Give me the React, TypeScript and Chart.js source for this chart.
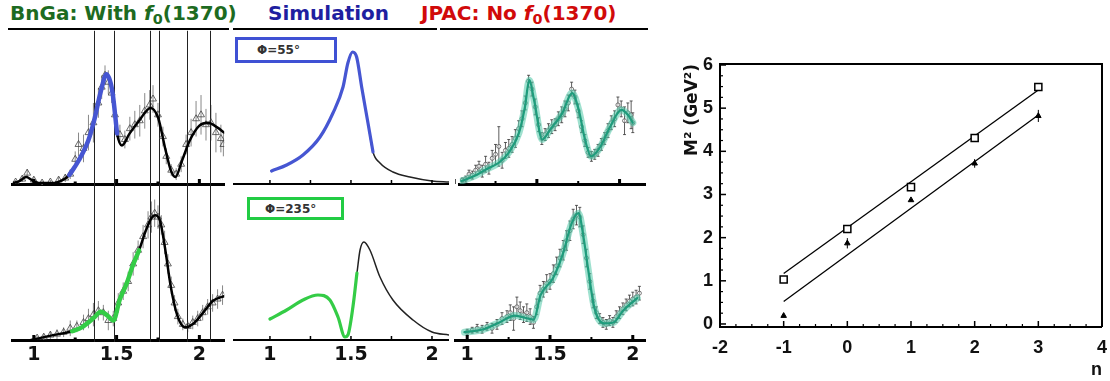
import React, { useEffect, useRef } from 'react';
import { Chart, registerables } from 'chart.js';
Chart.register(...registerables);
Chart.defaults.font.family = 'DejaVu Sans';

// ---------------- mass axis (GeV) ----------------
const massTickValues = [1, 1.5, 2];
const massTickLabels = ['1', '1.5', '2'];
const massMinorTicks = [1.25, 1.75];

// ---------------- BnGa: with f0(1370) ----------------
const bngaLines = [1.364, 1.486, 1.699, 1.757, 1.925, 2.064];

const bngaTopFitX = [0.873, 0.913, 0.954, 0.988, 1.029, 1.116, 1.173, 1.214, 1.272, 1.329, 1.364, 1.405, 1.439, 1.474, 1.503, 1.532, 1.578, 1.636, 1.705, 1.751, 1.792, 1.827, 1.855, 1.896, 1.942, 2.0, 2.052, 2.11, 2.15];
const bngaTopFitY = [1, 3, 7, 4, 1, 1, 4, 9, 24, 44, 64, 94, 111, 94, 51, 39, 51, 64, 77, 67, 37, 14, 7, 24, 44, 59, 62, 57, 52];
const bngaTopBlueRange = [1.214, 1.503];
const bngaTopPtsX = [0.89, 0.93, 0.96, 1.0, 1.05, 1.10, 1.15, 1.19, 1.22, 1.25, 1.27, 1.30, 1.33, 1.36, 1.39, 1.41, 1.43, 1.45, 1.47, 1.49, 1.52, 1.55, 1.58, 1.61, 1.64, 1.67, 1.70, 1.72, 1.75, 1.78, 1.80, 1.83, 1.86, 1.89, 1.92, 1.95, 1.98, 2.01, 2.04, 2.07, 2.10, 2.13, 2.145];
const bngaTopPtsY = [2, 5, 11, 4, 1, 2, 4, 6, 10, 25, 40, 36, 52, 62, 82, 98, 110, 103, 92, 70, 50, 45, 56, 60, 64, 74, 80, 86, 70, 48, 28, 14, 10, 20, 40, 52, 66, 70, 60, 62, 52, 46, 40];
const bngaTopPtsErr = [2, 3, 4, 3, 2, 2, 3, 4, 5, 8, 12, 14, 18, 20, 15, 12, 10, 12, 10, 14, 10, 9, 12, 14, 16, 18, 15, 14, 12, 10, 8, 6, 6, 8, 10, 14, 18, 20, 16, 18, 20, 14, 12];

const bngaBotFitX = [0.983, 1.116, 1.231, 1.289, 1.364, 1.405, 1.445, 1.48, 1.52, 1.561, 1.595, 1.636, 1.676, 1.711, 1.734, 1.763, 1.792, 1.827, 1.867, 1.913, 1.965, 2.023, 2.081, 2.15];
const bngaBotFitY = [0, 5, 9, 13, 23, 29, 25, 20, 42, 58, 75, 92, 112, 125, 128, 122, 95, 55, 25, 13, 17, 28, 40, 45];
const bngaBotGreenRange = [1.231, 1.636];
const bngaBotPtsX = [1.02, 1.06, 1.10, 1.14, 1.18, 1.22, 1.26, 1.30, 1.33, 1.36, 1.39, 1.42, 1.45, 1.48, 1.51, 1.54, 1.57, 1.60, 1.63, 1.66, 1.69, 1.71, 1.73, 1.75, 1.77, 1.79, 1.81, 1.83, 1.85, 1.87, 1.90, 1.93, 1.96, 1.99, 2.02, 2.05, 2.08, 2.11, 2.14];
const bngaBotPtsY = [2, 3, 5, 6, 8, 12, 14, 18, 22, 26, 30, 28, 20, 22, 38, 50, 60, 78, 92, 106, 118, 126, 130, 126, 118, 100, 78, 56, 38, 24, 16, 14, 18, 22, 28, 34, 38, 42, 46];
const bngaBotPtsErr = [2, 3, 4, 5, 5, 8, 6, 8, 10, 12, 10, 8, 10, 8, 10, 9, 10, 12, 10, 12, 14, 16, 14, 12, 10, 12, 10, 9, 8, 8, 6, 6, 7, 8, 8, 8, 9, 10, 10];

// ---------------- Simulation ----------------
const simTopX = [1.01, 1.103, 1.204, 1.309, 1.389, 1.451, 1.481, 1.51, 1.535, 1.566, 1.605, 1.636, 1.679, 1.759, 1.864, 2.0, 2.105];
const simTopY = [13, 19, 29, 47, 71, 97, 121, 132, 127, 97, 61, 32, 21, 12, 7, 3, 2];
const simTopBlueRange = [1.01, 1.636];
const simBotX = [1.0, 1.103, 1.204, 1.296, 1.37, 1.42, 1.463, 1.481, 1.512, 1.537, 1.556, 1.58, 1.617, 1.679, 1.759, 1.883, 2.0, 2.105];
const simBotY = [21, 30, 40, 45, 40, 23, 3, 5, 33, 67, 90, 98, 90, 63, 40, 20, 8, 5];
const simBotGreenRange = [1.0, 1.537];

// ---------------- JPAC: no f0(1370) ----------------
const jpacTopFitX = [1.044, 1.121, 1.195, 1.274, 1.331, 1.392, 1.428, 1.454, 1.483, 1.533, 1.58, 1.655, 1.713, 1.753, 1.791, 1.828, 1.885, 1.943, 2.011, 2.05, 2.08];
const jpacTopFitY = [3, 8, 15, 22, 32, 52, 78, 105, 85, 45, 55, 72, 92, 75, 45, 28, 38, 58, 75, 70, 62];
const jpacTopPtsX = [1.05, 1.07, 1.09, 1.11, 1.13, 1.15, 1.17, 1.19, 1.21, 1.23, 1.25, 1.27, 1.29, 1.31, 1.33, 1.35, 1.37, 1.39, 1.41, 1.43, 1.45, 1.47, 1.49, 1.51, 1.53, 1.55, 1.57, 1.59, 1.61, 1.63, 1.65, 1.67, 1.69, 1.71, 1.73, 1.75, 1.77, 1.79, 1.81, 1.83, 1.85, 1.87, 1.89, 1.91, 1.93, 1.95, 1.97, 1.99, 2.01, 2.03, 2.05, 2.07, 2.08];
const jpacTopPtsY = [4, 5, 10, 9, 14, 18, 13, 20, 16, 26, 30, 38, 24, 34, 36, 40, 46, 56, 66, 82, 104, 96, 78, 60, 46, 50, 54, 58, 60, 66, 70, 76, 82, 96, 88, 74, 58, 44, 32, 28, 30, 34, 40, 46, 54, 62, 66, 80, 76, 64, 72, 70, 62];
const jpacTopPtsErr = [2, 3, 4, 4, 5, 5, 6, 8, 6, 8, 10, 20, 8, 8, 9, 8, 9, 8, 8, 7, 6, 7, 8, 7, 6, 6, 7, 7, 6, 7, 8, 8, 8, 7, 7, 7, 6, 6, 5, 5, 5, 6, 6, 6, 7, 7, 8, 8, 8, 14, 10, 14, 10];

const jpacBotFitX = [0.983, 1.098, 1.194, 1.287, 1.366, 1.402, 1.443, 1.517, 1.575, 1.632, 1.672, 1.701, 1.73, 1.768, 1.826, 1.883, 1.941, 2.027];
const jpacBotFitY = [8, 11, 18, 25, 22, 21, 46, 63, 87, 120, 130, 107, 73, 33, 17, 18, 30, 43];
const jpacBotPtsX = [1.00, 1.03, 1.06, 1.09, 1.12, 1.15, 1.18, 1.21, 1.24, 1.26, 1.28, 1.30, 1.32, 1.34, 1.36, 1.38, 1.40, 1.42, 1.44, 1.46, 1.48, 1.50, 1.52, 1.54, 1.56, 1.58, 1.60, 1.62, 1.64, 1.66, 1.68, 1.70, 1.72, 1.74, 1.76, 1.78, 1.80, 1.82, 1.84, 1.86, 1.88, 1.90, 1.92, 1.94, 1.96, 1.98, 2.00, 2.02, 2.04];
const jpacBotPtsY = [8, 10, 12, 11, 14, 12, 16, 22, 24, 28, 22, 34, 30, 26, 28, 24, 18, 34, 48, 52, 58, 60, 68, 76, 84, 92, 102, 112, 124, 128, 126, 108, 84, 60, 40, 28, 22, 18, 16, 20, 18, 24, 28, 32, 36, 40, 42, 44, 48];
const jpacBotPtsErr = [3, 3, 4, 4, 4, 5, 5, 6, 6, 8, 12, 10, 9, 8, 9, 8, 6, 8, 8, 8, 9, 8, 9, 9, 9, 10, 10, 10, 10, 10, 10, 9, 9, 8, 7, 6, 5, 5, 5, 5, 5, 6, 6, 6, 6, 6, 7, 7, 7];

// ---------------- Regge trajectories ----------------
const nTicks = [-2, -1, 0, 1, 2, 3, 4];
const m2Ticks = [0, 1, 2, 3, 4, 5, 6];
const nValues = [-1, 0, 1, 2, 3];
const m2Open = [1.03, 2.2, 3.17, 4.31, 5.49];
const m2Filled = [0.19, 1.87, 2.87, 3.72, 4.82];
const m2FilledErr = [0, 0.12, 0, 0.1, 0.14];
const fitN = [-1, 3];
const fitOpen = [1.17, 5.42];
const fitFilled = [0.52, 4.84];

// ---------------- helpers ----------------
type Pt = { x: number; y: number };
const zip = (xs: number[], ys: number[]): Pt[] => xs.map((x, i) => ({ x, y: ys[i] }));
const within = (pts: Pt[], r: number[]) => pts.filter((p) => p.x >= r[0] - 1e-9 && p.x <= r[1] + 1e-9);
const quarters = (ticks: number[]) => {
  const out: number[] = [];
  for (let i = 0; i < ticks.length - 1; i++) for (let k = 1; k < 4; k++) out.push(ticks[i] + ((ticks[i + 1] - ticks[i]) * k) / 4);
  return out;
};

const errorBarPlugin = {
  id: 'errorBars',
  beforeDatasetsDraw(chart: any) {
    const ctx = chart.ctx;
    chart.data.datasets.forEach((ds: any, i: number) => {
      const eb = ds.errorBars;
      if (!eb) return;
      const meta = chart.getDatasetMeta(i);
      const xs = chart.scales[meta.xAxisID];
      const ys = chart.scales[meta.yAxisID];
      ctx.save();
      ctx.strokeStyle = eb.color;
      ctx.lineWidth = eb.width;
      ds.data.forEach((p: Pt, j: number) => {
        const e = eb.values[j];
        if (!e) return;
        const px = xs.getPixelForValue(p.x);
        const y1 = ys.getPixelForValue(p.y - e);
        const y2 = ys.getPixelForValue(p.y + e);
        ctx.beginPath();
        ctx.moveTo(px, y1);
        ctx.lineTo(px, y2);
        if (eb.cap) {
          ctx.moveTo(px - eb.cap, y1); ctx.lineTo(px + eb.cap, y1);
          ctx.moveTo(px - eb.cap, y2); ctx.lineTo(px + eb.cap, y2);
        }
        ctx.stroke();
      });
      ctx.restore();
    });
  },
};

const vlinePlugin = {
  id: 'vlines',
  beforeDatasetsDraw(chart: any, _a: any, opts: any) {
    if (!opts || !opts.values || !opts.values.length) return;
    const { ctx, chartArea } = chart;
    const xs = chart.scales.x;
    ctx.save();
    ctx.strokeStyle = opts.color;
    ctx.lineWidth = opts.width;
    const top = opts.fromCanvasTop ? 0 : chartArea.top;
    opts.values.forEach((v: number) => {
      const px = Math.round(xs.getPixelForValue(v)) + 0.5;
      ctx.beginPath();
      ctx.moveTo(px, top);
      ctx.lineTo(px, chartArea.bottom + 2);
      ctx.stroke();
    });
    ctx.restore();
  },
};

const inTickPlugin = {
  id: 'inTicks',
  afterDatasetsDraw(chart: any, _a: any, opts: any) {
    const { ctx, chartArea } = chart;
    const list = (opts && opts.list) || [];
    for (let i = 0; i < list.length; i++) {
      const t = list[i];
      const sc = chart.scales[t.axis];
      ctx.save();
      ctx.fillStyle = '#000';
      t.values.forEach((v: number) => {
        const p = sc.getPixelForValue(v);
        if (t.axis === 'x') ctx.fillRect(p - t.width / 2, chartArea.bottom - t.len, t.width, t.len);
        else ctx.fillRect(chartArea.left, p - t.width / 2, t.len, t.width);
      });
      ctx.restore();
    }
  },
};

const framePlugin = {
  id: 'frame',
  afterDatasetsDraw(chart: any, _a: any, opts: any) {
    if (!opts || !opts.width) return;
    const { ctx, chartArea } = chart;
    ctx.save();
    ctx.strokeStyle = '#000';
    ctx.lineWidth = opts.width;
    ctx.beginPath();
    ctx.moveTo(chartArea.left, chartArea.top);
    ctx.lineTo(chartArea.right, chartArea.top);
    ctx.lineTo(chartArea.right, chartArea.bottom);
    ctx.stroke();
    ctx.restore();
  },
};

const curve = (pts: Pt[], color: string, width: number) => ({
  data: pts, borderColor: color, borderWidth: width, pointRadius: 0, fill: false,
  cubicInterpolationMode: 'monotone', borderCapStyle: 'round', borderJoinStyle: 'round',
});
const marks = (pts: Pt[], errs: number[], o: any) => ({
  data: pts, showLine: false, pointStyle: o.style, pointRadius: o.radius,
  pointBorderColor: o.border, pointBackgroundColor: o.fill, pointBorderWidth: o.borderWidth,
  errorBars: { values: errs, color: o.errColor, width: o.errWidth, cap: o.cap },
});

const triangles = (xs: number[], ys: number[], es: number[]) =>
  marks(zip(xs, ys), es, { style: 'triangle', radius: 4, border: '#444', fill: 'rgba(255,255,255,0)', borderWidth: 0.8, errColor: '#888', errWidth: 1, cap: 0 });
const circles = (xs: number[], ys: number[], es: number[]) =>
  marks(zip(xs, ys), es, { style: 'circle', radius: 2, border: '#555', fill: 'rgba(255,255,255,0.5)', borderWidth: 0.8, errColor: '#333', errWidth: 0.8, cap: 1.5 });

const panelFont = { family: 'DejaVu Sans', size: 19, weight: 'bold' as const };

function massPanel(o: {
  xMin: number; xMax: number; bottomRow: boolean; datasets: any[]; axisWidth: number; tickMarks: any[]; vlines?: any;
}) {
  return {
    type: 'line',
    data: { datasets: o.datasets },
    plugins: [errorBarPlugin, vlinePlugin, inTickPlugin],
    options: {
      responsive: false, animation: false, events: [],
      layout: { padding: { top: o.bottomRow ? 1 : 3, left: 0, right: 0, bottom: 0 } },
      plugins: {
        legend: { display: false }, tooltip: { enabled: false },
        vlines: o.vlines || { values: [] },
        inTicks: { list: o.tickMarks },
      },
      scales: {
        x: {
          type: 'linear', min: o.xMin, max: o.xMax,
          grid: { display: false, drawTicks: false },
          border: { display: true, color: '#000', width: o.axisWidth },
          ticks: {
            display: o.bottomRow, padding: 4, color: '#111', font: panelFont, autoSkip: false, maxRotation: 0,
            callback: (v: number) => { const i = massTickValues.indexOf(v); return i >= 0 ? massTickLabels[i] : ''; },
          },
          afterBuildTicks: (s: any) => { s.ticks = massTickValues.map((v) => ({ value: v })); },
          afterFit: (s: any) => { s.height = o.bottomRow ? 41 : 6; },
        },
        y: { display: false, min: 0, max: 155 },
      },
    },
  };
}

const leftTicks = [
  { axis: 'x', values: massTickValues, len: 5, width: 3 },
  { axis: 'x', values: massMinorTicks, len: 2.5, width: 3 },
];
const midTicks = [{ axis: 'x', values: [...massTickValues, ...massMinorTicks], len: 4, width: 1.5 }];
const rightTicks = [
  { axis: 'x', values: massTickValues, len: 5, width: 3 },
  { axis: 'x', values: massMinorTicks, len: 3, width: 2 },
];

const BLUE = '#4656d2';
const GREEN = '#34cc46';

const configs = {
  bngaTop: () => {
    const fit = zip(bngaTopFitX, bngaTopFitY);
    return massPanel({
      xMin: 0.873, xMax: 2.15, bottomRow: false, axisWidth: 3, tickMarks: leftTicks,
      vlines: { values: bngaLines, color: '#222', width: 1, fromCanvasTop: false },
      datasets: [curve(within(fit, bngaTopBlueRange), BLUE, 4.5), curve(fit, '#000', 2.5), triangles(bngaTopPtsX, bngaTopPtsY, bngaTopPtsErr)],
    });
  },
  bngaBot: () => {
    const fit = zip(bngaBotFitX, bngaBotFitY);
    return massPanel({
      xMin: 0.873, xMax: 2.15, bottomRow: true, axisWidth: 3, tickMarks: leftTicks,
      vlines: { values: bngaLines, color: '#222', width: 1, fromCanvasTop: true },
      datasets: [curve(within(fit, bngaBotGreenRange), GREEN, 4.5), curve(fit, '#000', 2.5), triangles(bngaBotPtsX, bngaBotPtsY, bngaBotPtsErr)],
    });
  },
  simTop: () => {
    const fit = zip(simTopX, simTopY);
    return massPanel({
      xMin: 0.772, xMax: 2.105, bottomRow: false, axisWidth: 2, tickMarks: midTicks,
      datasets: [curve(within(fit, simTopBlueRange), BLUE, 3.2), curve(fit, '#222', 1.5)],
    });
  },
  simBot: () => {
    const fit = zip(simBotX, simBotY);
    return massPanel({
      xMin: 0.772, xMax: 2.105, bottomRow: true, axisWidth: 2, tickMarks: midTicks,
      datasets: [curve(within(fit, simBotGreenRange), GREEN, 3.2), curve(fit.filter((p) => p.x >= simBotGreenRange[1]), '#222', 1.5)],
    });
  },
  jpacTop: () => {
    const fit = zip(jpacTopFitX, jpacTopFitY);
    return massPanel({
      xMin: 1.034, xMax: 2.155, bottomRow: false, axisWidth: 3, tickMarks: rightTicks,
      datasets: [curve(fit, '#1f9c7c', 2.2), curve(fit, 'rgba(80,200,168,0.55)', 7), circles(jpacTopPtsX, jpacTopPtsY, jpacTopPtsErr)],
    });
  },
  jpacBot: () => {
    const fit = zip(jpacBotFitX, jpacBotFitY);
    return massPanel({
      xMin: 0.931, xMax: 2.075, bottomRow: true, axisWidth: 3, tickMarks: rightTicks,
      datasets: [curve(fit, '#1f9c7c', 2.2), curve(fit, 'rgba(80,200,168,0.55)', 7), circles(jpacBotPtsX, jpacBotPtsY, jpacBotPtsErr)],
    });
  },
  regge: () => {
    const fam = "'Liberation Sans', Arial, sans-serif";
    const tickFont = { family: fam, size: 18, weight: 'bold' as const };
    const xTickFont = { family: fam, size: 18, weight: 'bold' as const, lineHeight: 2 };
    return {
      type: 'line',
      data: {
        datasets: [
          marks(zip(nValues, m2Open), [], { style: 'rect', radius: 5, border: '#000', fill: '#fff', borderWidth: 1.5, errColor: '#000', errWidth: 1, cap: 0 }),
          marks(zip(nValues, m2Filled), m2FilledErr, { style: 'triangle', radius: 3.2, border: '#000', fill: '#000', borderWidth: 1, errColor: '#000', errWidth: 1, cap: 0 }),
          { data: zip(fitN, fitOpen), borderColor: '#000', borderWidth: 1.3, pointRadius: 0, tension: 0 },
          { data: zip(fitN, fitFilled), borderColor: '#000', borderWidth: 1.3, pointRadius: 0, tension: 0 },
        ],
      },
      plugins: [errorBarPlugin, inTickPlugin, framePlugin],
      options: {
        responsive: false, animation: false, events: [],
        layout: { padding: { top: 24, right: 3, left: 0, bottom: 0 } },
        plugins: {
          legend: { display: false }, tooltip: { enabled: false },
          frame: { width: 2 },
          inTicks: {
            list: [
              { axis: 'x', values: nTicks, len: 6, width: 1.5 },
              { axis: 'x', values: quarters(nTicks), len: 3, width: 1.2 },
              { axis: 'y', values: m2Ticks, len: 6, width: 1.5 },
              { axis: 'y', values: quarters(m2Ticks), len: 3, width: 1.2 },
            ],
          },
        },
        scales: {
          x: {
            type: 'linear', min: -2, max: 4,
            grid: { display: false, drawTicks: false },
            border: { display: true, color: '#000', width: 2 },
            ticks: { padding: 3, color: '#111', font: xTickFont, autoSkip: false, maxRotation: 0 },
            afterBuildTicks: (s: any) => { s.ticks = nTicks.map((v) => ({ value: v })); },
            title: { display: true, text: 'n', align: 'end', color: '#111', font: tickFont, padding: { top: 0, bottom: 0 } },
            afterFit: (s: any) => { s.height = 54; },
          },
          y: {
            type: 'linear', min: -0.07, max: 6.023,
            grid: { display: false, drawTicks: false },
            border: { display: true, color: '#000', width: 2 },
            ticks: { padding: 7, color: '#111', font: tickFont, autoSkip: false },
            afterBuildTicks: (s: any) => { s.ticks = m2Ticks.map((v) => ({ value: v })); },
            title: { display: true, text: 'M² (GeV²)', align: 'end', color: '#111', font: { family: 'DejaVu Sans', size: 17, weight: 'bold' }, padding: { top: 22, bottom: 0 } },
            afterFit: (s: any) => { s.width = 60; },
          },
        },
      },
    };
  },
};

function ChartCanvas({ left, top, width, height, make }: { left: number; top: number; width: number; height: number; make: () => any }) {
  const ref = useRef<HTMLCanvasElement>(null);
  useEffect(() => {
    if (!ref.current) return;
    const chart = new Chart(ref.current, make());
    return () => chart.destroy();
  }, []);
  return (
    <div style={{ position: 'absolute', left, top, width, height }}>
      <canvas ref={ref} width={width} height={height} style={{ width, height, display: 'block' }} />
    </div>
  );
}

const titleStyle = (left: number, color: string): React.CSSProperties => ({
  position: 'absolute', left, top: 1, fontFamily: 'DejaVu Sans', fontWeight: 'bold', fontSize: 20,
  lineHeight: '24px', color, whiteSpace: 'nowrap',
});
const sub: React.CSSProperties = { fontSize: '0.72em', position: 'relative', top: '0.28em' };
const rule = (left: number, width: number): React.CSSProperties => ({ position: 'absolute', left, top: 28, width, height: 2, background: '#000' });
const phiBox = (left: number, top: number, width: number, height: number, color: string, padLeft: number): React.CSSProperties => ({
  position: 'absolute', left, top, width, height, boxSizing: 'border-box', border: `3px solid ${color}`,
  display: 'flex', alignItems: 'center', paddingLeft: padLeft, fontFamily: 'DejaVu Sans', fontWeight: 'bold',
  fontSize: 12, color: '#333', background: '#fff',
});

export default function App() {
  return (
    <div style={{ position: 'absolute', left: 0, top: 0, width: 1110, height: 381, background: '#fff', overflow: 'hidden' }}>
      <div style={titleStyle(10, '#1d6b21')}>BnGa: With <i>f</i><span style={sub}>0</span>(1370)</div>
      <div style={titleStyle(268, '#1f1fa0')}>Simulation</div>
      <div style={titleStyle(421, '#d10a0a')}>JPAC: No <i>f</i><span style={sub}>0</span>(1370)</div>
      <div style={rule(8, 221)} />
      <div style={rule(233, 204)} />
      <div style={rule(440, 208)} />

      <ChartCanvas left={8} top={26} width={221} height={164} make={configs.bngaTop} />
      <ChartCanvas left={8} top={184} width={221} height={197} make={configs.bngaBot} />
      <ChartCanvas left={233} top={26} width={216} height={164} make={configs.simTop} />
      <ChartCanvas left={233} top={184} width={216} height={197} make={configs.simBot} />
      <ChartCanvas left={455} top={26} width={195} height={164} make={configs.jpacTop} />
      <ChartCanvas left={451} top={184} width={199} height={197} make={configs.jpacBot} />
      <ChartCanvas left={660} top={40} width={450} height={341} make={configs.regge} />

      <div style={phiBox(235, 37, 102, 26, '#3f51d4', 19)}>Φ=55°</div>
      <div style={phiBox(247, 197, 97, 23, '#22cc44', 15)}>Φ=235°</div>
    </div>
  );
}
